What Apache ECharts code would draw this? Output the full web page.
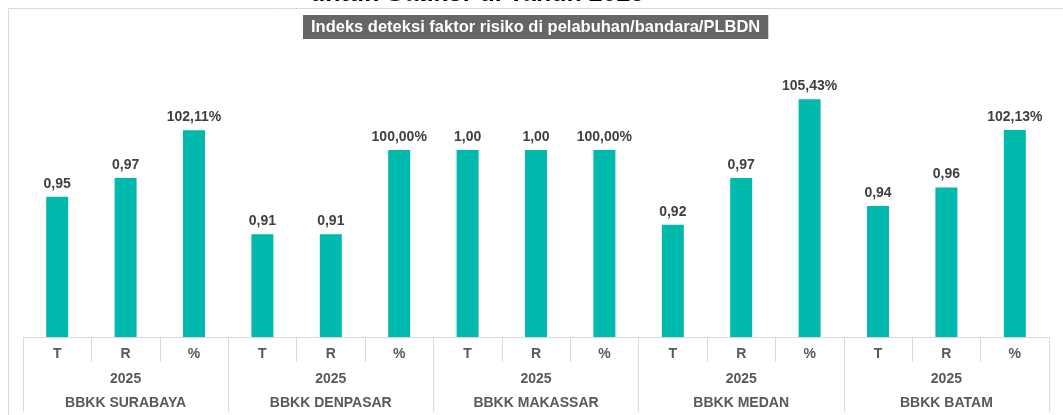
<!DOCTYPE html>
<html>
<head>
<meta charset="utf-8">
<script src="https://cdn.jsdelivr.net/npm/echarts@6/dist/echarts.min.js"></script>
<style>
html,body{margin:0;padding:0;background:#fff;}
#c{width:1063px;height:415px;}
</style>
</head>
<body>
<div id="c"></div>
<script>
// ---- data ----
const groups = ['BBKK SURABAYA', 'BBKK DENPASAR', 'BBKK MAKASSAR', 'BBKK MEDAN', 'BBKK BATAM'];
const years = ['2025', '2025', '2025', '2025', '2025'];
const subCats = ['T', 'R', '%'];
const targetT = [0.95, 0.91, 1.00, 0.92, 0.94];
const realisasiR = [0.97, 0.91, 1.00, 0.97, 0.96];
const persen = [102.11, 100.00, 100.00, 105.43, 102.13];
const mainTitle = 'untuk Gatikor di Tahun 2025';
const subTitle = 'Indeks deteksi faktor risiko di pelabuhan/bandara/PLBDN';

// build flat category list and bar data
const cats = [];
const values = [];
const labels = [];
const fmt = v => v.toFixed(2).replace('.', ',');
groups.forEach((g, i) => {
  cats.push(subCats[0], subCats[1], subCats[2]);
  values.push(targetT[i], realisasiR[i], persen[i] / 100);
  labels.push(fmt(targetT[i]), fmt(realisasiR[i]), fmt(persen[i]) + '%');
});

const FONT = '"Liberation Sans", Arial, sans-serif';
const LINE = '#d9d9d9';
const TXT = '#595959';

const chart = echarts.init(document.getElementById('c'), null, {renderer: 'canvas'});
chart.setOption({
  backgroundColor: '#ffffff',
  animation: false,
  graphic: [{
    type: 'rect', left: 6, top: 6, z: -1,
    shape: {width: 1200, height: 600},
    style: {fill: 'none', stroke: LINE, lineWidth: 1}
  }],
  title: [{
    text: mainTitle, left: 305, top: -23,
    textStyle: {fontFamily: FONT, fontSize: 25, fontWeight: 'bold', color: '#000'}
  }, {
    text: subTitle, left: 303, top: 15,
    backgroundColor: '#666666', padding: [4, 8, 3, 8],
    textStyle: {fontFamily: FONT, fontSize: 16.5, fontWeight: 'bold', color: '#ffffff', lineHeight: 17}
  }],
  grid: {left: 23, right: 14, top: 56.5, bottom: 78, containLabel: false},
  xAxis: [{
    type: 'category', data: cats, position: 'bottom',
    axisLine: {show: true, lineStyle: {color: LINE, width: 1}},
    axisTick: {show: true, interval: 0, length: 25, lineStyle: {color: LINE}},
    axisLabel: {interval: 0, margin: 10, color: TXT, fontFamily: FONT, fontSize: 14, fontWeight: 'bold'}
  }, {
    type: 'category', data: years, position: 'bottom', gridIndex: 0,
    axisLine: {show: false},
    axisTick: {show: true, interval: 0, length: 75, lineStyle: {color: LINE}},
    axisLabel: {interval: 0, margin: 35, color: TXT, fontFamily: FONT, fontSize: 14, fontWeight: 'bold'}
  }, {
    type: 'category', data: groups, position: 'bottom', gridIndex: 0,
    axisLine: {show: false},
    axisTick: {show: false},
    axisLabel: {interval: 0, margin: 59, color: TXT, fontFamily: FONT, fontSize: 14, fontWeight: 'bold'}
  }],
  yAxis: {
    type: 'value', min: 0.8, max: 1.1, show: false,
    splitLine: {show: false}
  },
  series: [{
    type: 'bar', xAxisIndex: 0, data: values, barWidth: 22,
    itemStyle: {color: '#00B9AD'},
    label: {
      show: true, position: 'top', distance: 6,
      color: '#404040', fontFamily: FONT, fontSize: 14, fontWeight: 'bold',
      formatter: p => labels[p.dataIndex]
    }
  }]
});
</script>
</body>
</html>
